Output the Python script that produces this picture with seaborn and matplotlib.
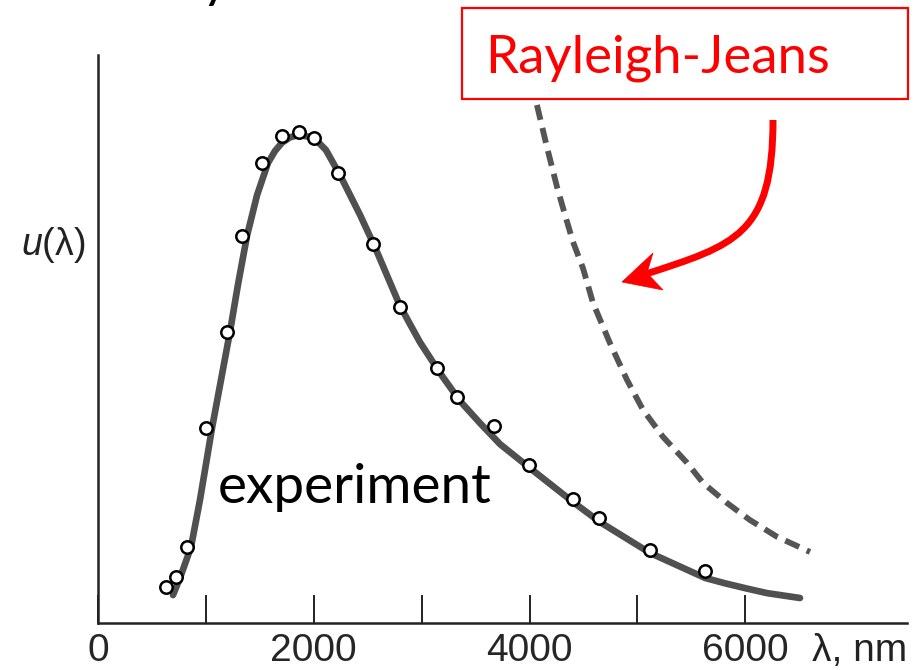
import numpy as np
import pandas as pd
import matplotlib
matplotlib.use("Agg")
import matplotlib.pyplot as plt
import seaborn as sns
from matplotlib.patches import Rectangle, PathPatch, Polygon
from matplotlib.path import Path

# ---------------- data ----------------
# experimental points (open circles): wavelength in nm, u(lambda) in arbitrary units
exp_wavelength = [626, 723, 825, 1001, 1195, 1335, 1520, 1701, 1863, 2006, 2224,
                  2549, 2799, 3142, 3327, 3670, 3999, 4402, 4643, 5116, 5626]
exp_u = [7.3, 9.3, 15.5, 39.7, 59.4, 79.0, 93.9, 99.4, 100.1, 99.0, 91.8,
         77.3, 64.5, 52.0, 46.1, 40.2, 32.3, 25.3, 21.4, 14.9, 10.6]

# smooth experimental (Planck) curve
fit_wavelength = [695, 760, 862, 945, 1057, 1140, 1223, 1297, 1381, 1474, 1576,
                  1640, 1705, 1780, 1863, 2002, 2113, 2243, 2428, 2567, 2799, 2984,
                  3170, 3355, 3540, 3726, 4004, 4402, 4652, 5116, 5626, 5811,
                  6000, 6200, 6506]
fit_u = [5.7, 9.2, 15.5, 25.1, 39.8, 49.6, 59.4, 69.0, 79.0, 87.3, 93.9,
         96.3, 98.0, 99.1, 99.6, 99.0, 96.5, 91.4, 83.3, 76.7, 64.7, 57.3,
         51.0, 45.3, 40.8, 36.5, 31.6, 24.7, 20.6, 14.3, 9.2, 8.1,
         7.1, 6.1, 5.1]

# Rayleigh-Jeans curve (dashed)
rj_wavelength = [4068, 4161, 4254, 4328, 4402, 4495, 4588, 4745, 4903, 5051,
                 5236, 5459, 5607, 5829, 6043, 6293, 6599]
rj_u = [105.7, 97.1, 89.0, 83.3, 77.8, 72.4, 65.3, 57.1, 49.6, 43.5,
        38.0, 32.7, 28.6, 24.5, 21.0, 17.6, 14.5]

major_ticks = [0, 2000, 4000, 6000]
major_labels = ["0", "2000", "4000", "6000"]
minor_ticks = [1000, 3000, 5000]

exp_df = pd.DataFrame({"wavelength": exp_wavelength, "u": exp_u})
fit_df = pd.DataFrame({"wavelength": fit_wavelength, "u": fit_u})
rj_df = pd.DataFrame({"wavelength": rj_wavelength, "u": rj_u})

# ---------------- style ----------------
sns.set_style("white")
plt.rcParams["font.family"] = ["Liberation Sans", "DejaVu Sans"]
plt.rcParams["mathtext.fontset"] = "custom"
plt.rcParams["mathtext.it"] = "Liberation Sans:italic"
plt.rcParams["mathtext.rm"] = "Liberation Sans"
plt.rcParams["lines.scale_dashes"] = False

W, H = 923, 670
fig = plt.figure(figsize=(W / 100, H / 100), dpi=100)
ax = fig.add_axes([98 / W, 47 / H, 809 / W, 568 / H])

sns.lineplot(data=fit_df, x="wavelength", y="u", ax=ax, color="#505050",
             linewidth=4.8, estimator=None, sort=False, zorder=2)
sns.lineplot(data=rj_df, x="wavelength", y="u", ax=ax, color="#555555",
             linewidth=4.2, estimator=None, sort=False, zorder=2,
             linestyle=(0, (11.0, 6.0)), dash_capstyle="butt")
sns.scatterplot(data=exp_df, x="wavelength", y="u", ax=ax, s=80,
                facecolor="white", edgecolor="black", linewidth=1.8, zorder=3)

ax.set_xlim(0, 7498)
ax.set_ylim(0, 115.9)
ax.set_xlabel("")
ax.set_ylabel("")

for side in ["top", "right"]:
    ax.spines[side].set_visible(False)
for side in ["left", "bottom"]:
    ax.spines[side].set_color("#222222")
    ax.spines[side].set_linewidth(1.8)

ax.set_xticks(major_ticks)
ax.set_xticklabels(major_labels)
ax.set_xticks(minor_ticks, minor=True)
ax.tick_params(axis="x", which="both", direction="in", length=20, width=1.4,
               color="#222222", labelsize=28, pad=7, bottom=True)
ax.set_yticks([])

ax.annotate("λ, nm", xy=(1.0, 0.0), xycoords="axes fraction",
            xytext=(0, -7), textcoords="offset points",
            ha="right", va="top", fontsize=28, color="#222222")

ax.text(-0.016, 0.666, "$u$(λ)", transform=ax.transAxes, ha="right",
        va="center", fontsize=27, color="#222222")

# ---------------- annotations ----------------
ax.text(1112, 24.5, "experiment", ha="left", va="baseline", fontsize=39.5,
        family=["Lato", "DejaVu Sans"], color="black", zorder=5)

def fx(px):
    return px / W

def fy(py):
    return 1 - py / H

box = Rectangle((fx(462), fy(99)), fx(908) - fx(462), fy(8) - fy(99),
                transform=fig.transFigure, facecolor="white",
                edgecolor="#ff0000", linewidth=1.6, zorder=10)
fig.patches.append(box)
fig.text(fx(485), fy(72), "Rayleigh-Jeans", ha="left", va="baseline",
         fontsize=38, family=["Lato", "DejaVu Sans"], color="#ff0000", zorder=11)

# curved red arrow
verts = [(fx(773), fy(120)), (fx(773), fy(235)), (fx(735), fy(245)),
         (fx(646), fy(274))]
codes = [Path.MOVETO, Path.CURVE4, Path.CURVE4, Path.CURVE4]
shaft = PathPatch(Path(verts, codes), transform=fig.transFigure,
                  facecolor="none", edgecolor="#ff0000", linewidth=5.0,
                  capstyle="butt", zorder=10)
fig.patches.append(shaft)
head = Polygon([(fx(622), fy(282)), (fx(653), fy(253)), (fx(647), fy(273)),
                (fx(663), fy(290))], closed=True, transform=fig.transFigure,
               facecolor="#ff0000", edgecolor="#ff0000", linewidth=0.5,
               zorder=10)
fig.patches.append(head)

# descender of cut-off title letter at the top (cut off in the reference too)
fig.text(fx(201), 1 + 3 / H, "y", ha="left", va="baseline", fontsize=38,
         family=["Lato", "DejaVu Sans"], color="black")

fig.savefig("out.png", dpi=100)
